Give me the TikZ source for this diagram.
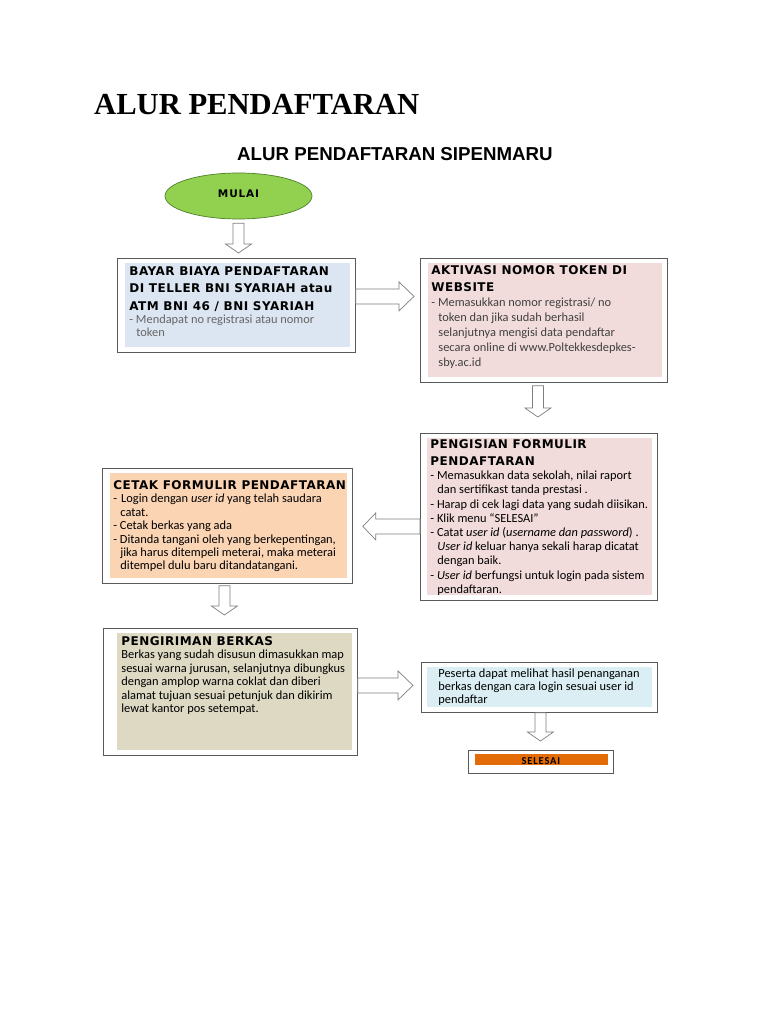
\documentclass[tikz,border=0pt]{standalone}
\usepackage{fontspec}
\usepackage{tikz}
\usetikzlibrary{positioning,calc,shapes.geometric}
\newfontfamily\titlefont{Liberation Serif}
\newfontfamily\chartfont{Liberation Sans}
\newfontfamily\headfont{DejaVu Sans}[LetterSpace=4]
\newfontfamily\bodyfont{Carlito}
\definecolor{startgreen}{HTML}{92D050}
\definecolor{startedge}{HTML}{4E7F2A}
\definecolor{payblue}{HTML}{DCE6F2}
\definecolor{webpink}{HTML}{F2DCDB}
\definecolor{printpeach}{HTML}{FBD4B4}
\definecolor{mailtan}{HTML}{DDD9C3}
\definecolor{resultcyan}{HTML}{DAEEF3}
\definecolor{endorange}{HTML}{E36C09}
\definecolor{framegray}{HTML}{595959}
\definecolor{arrowgray}{HTML}{7F7F7F}
\newcommand{\boxhead}[2]{{\headfont\bfseries\fontsize{12}{#1}\selectfont #2\par}}
\newcommand{\boxbody}[2]{{\bodyfont\fontsize{12.4}{#1}\selectfont #2\par}}
\newcommand{\indcont}{\hspace*{7pt}}
\newcommand{\panelbox}[3]{\parbox[t][#2][t]{#1}{\noindent\rlap{\parbox[t]{300pt}{#3}}}}
% hollow block arrow: from, to, stem half width, head half width, head length
\newcommand{\blockarrow}[5]{%
  \draw[hollow] ($(#1)!#3!90:(#2)$) -- ($(#2)!#5!(#1)!#3!90:(#2)$)
    -- ($(#2)!#5!(#1)!#4!90:(#2)$) -- (#2)
    -- ($(#2)!#5!(#1)!#4!-90:(#2)$) -- ($(#2)!#5!(#1)!#3!-90:(#2)$)
    -- ($(#1)!#3!-90:(#2)$) -- cycle;}
\tikzset{
    startnode/.style={ellipse,draw=startedge,fill=startgreen,line width=0.7pt,
        minimum width=147pt,minimum height=46pt,inner sep=0pt,
        font=\headfont\bfseries\fontsize{10.5}{12}\selectfont\addfontfeature{LetterSpace=8}},
    stage/.style={draw=framegray,line width=0.8pt,fill=white,anchor=north west,
        inner xsep=11pt,inner ysep=7pt,text=black},
    panel/.style 2 args={path picture={\fill[#1]
        ([shift={(#2,5pt)}]path picture bounding box.south west) rectangle
        ([shift={(-5pt,-5pt)}]path picture bounding box.north east);}},
    endbox/.style={draw=framegray,line width=0.8pt,fill=white,anchor=north west,
        minimum width=145pt,minimum height=23pt,inner sep=0pt,
        font=\bodyfont\bfseries\fontsize{10.5}{12}\selectfont\addfontfeature{LetterSpace=8},
        path picture={\fill[endorange]
        ([shift={(7pt,8pt)}]path picture bounding box.south west) rectangle
        ([shift={(-5pt,-4pt)}]path picture bounding box.north east);}},
    hollow/.style={draw=arrowgray,line width=0.7pt,fill=white,line join=miter},
}
\begin{document}
\begin{tikzpicture}[x=1pt,y=-1pt]
    \useasboundingbox (0,0) rectangle (768,1024);
    \fill[white] (0,0) rectangle (768,1024);

    \node[anchor=base west,inner sep=0pt,font=\titlefont\bfseries\fontsize{30.6}{36}\selectfont]
        (pagetitle) at (94,115) {ALUR PENDAFTARAN};
    \node[anchor=base west,inner sep=0pt,font=\chartfont\bfseries\fontsize{18.7}{22}\selectfont]
        (charttitle) at (237,161) {ALUR PENDAFTARAN SIPENMARU};

    \node[startnode] (mulai) at (238.5,196) {\raisebox{4pt}{MULAI}};

    \node[stage,panel={payblue}{8pt},inner xsep=12pt,inner ysep=8.25pt] (bayar) at (117,258)
        {\panelbox{214pt}{77.5pt}{%
        \boxhead{17.5pt}{BAYAR BIAYA PENDAFTARAN\\DI TELLER BNI SYARIAH atau\\ATM BNI 46 / BNI SYARIAH}%
        \boxbody{13pt}{\color{black!60}- Mendapat no registrasi atau nomor\\\indcont token}}};

    \node[stage,panel={webpink}{8pt},inner xsep=11pt,inner ysep=7.25pt] (aktivasi) at (420,258)
        {\panelbox{225pt}{109.5pt}{%
        \boxhead{17pt}{AKTIVASI NOMOR TOKEN DI\\WEBSITE}%
        \boxbody{15pt}{\color{black!75}- Memasukkan nomor registrasi/ no\\\indcont token dan jika sudah berhasil\\\indcont selanjutnya mengisi data pendaftar\\\indcont secara online di www.Poltekkesdepkes-\\\indcont sby.ac.id}}};

    \node[stage,panel={webpink}{7pt},inner xsep=10pt,inner ysep=6.25pt] (pengisian) at (420,433)
        {\panelbox{217pt}{154.5pt}{%
        \boxhead{17pt}{PENGISIAN FORMULIR\\PENDAFTARAN}%
        \boxbody{14.2pt}{- Memasukkan data sekolah, nilai raport\\\indcont dan sertifikast tanda prestasi .\\- Harap di cek lagi data yang sudah diisikan.\\- Klik menu “SELESAI”\\- Catat \textit{user id} (\textit{username dan password}) .\\\indcont\textit{User id} keluar hanya sekali harap dicatat\\\indcont dengan baik.\\- \textit{User id} berfungsi untuk login pada sistem\\\indcont pendaftaran.}}};

    \node[stage,panel={printpeach}{8pt},inner xsep=11pt,inner ysep=12.25pt] (cetak) at (102,468)
        {\panelbox{228pt}{90.5pt}{%
        \boxhead{17pt}{CETAK FORMULIR PENDAFTARAN}%
        \boxbody{13.4pt}{-\hspace{4pt}Login dengan \textit{user id} yang telah saudara\\\indcont catat.\\- Cetak berkas yang ada\\- Ditanda tangani oleh yang berkepentingan,\\\indcont jika harus ditempeli meterai, maka meterai\\\indcont ditempel dulu baru ditandatangani.}}};

    \node[stage,panel={mailtan}{14pt},inner xsep=18pt,inner ysep=8.25pt] (pengiriman) at (103,628)
        {\panelbox{218pt}{110.5pt}{%
        \boxhead{17pt}{PENGIRIMAN BERKAS}%
        \boxbody{13.4pt}{Berkas yang sudah disusun dimasukkan map\\sesuai warna jurusan, selanjutnya dibungkus\\dengan amplop warna coklat dan diberi\\alamat tujuan sesuai petunjuk dan dikirim\\lewat kantor pos setempat.}}};

    \node[stage,panel={resultcyan}{6pt},inner xsep=17pt,inner ysep=6.7pt] (peserta) at (421,662)
        {\panelbox{202pt}{36.6pt}{%
        \boxbody{13pt}{Peserta dapat melihat hasil penanganan\\berkas dengan cara login sesuai user id\\pendaftar}}};

    \node[endbox] (selesai) at (468,750) {\raisebox{2pt}{SELESAI}};

    % arrow ends
    \coordinate (a1s) at ($(mulai.south)+(0,4)$);
    \coordinate (a1e) at ($(mulai.south |- bayar.north)+(0,-5)$);
    \coordinate (a2s) at ($(bayar.east)+(0,-9)$);
    \coordinate (a2e) at ($(a2s -| aktivasi.west)+(-6,0)$);
    \coordinate (a3s) at ($(aktivasi.south)+(-6,3)$);
    \coordinate (a3e) at ($(a3s |- pengisian.north)+(0,-16)$);
    \coordinate (a4s) at ($(pengisian.west)+(0,9.5)$);
    \coordinate (a4e) at ($(a4s -| cetak.east)+(10,0)$);
    \coordinate (a5s) at ($(cetak.south)+(-3,2)$);
    \coordinate (a5e) at ($(a5s |- pengiriman.north)+(0,-13)$);
    \coordinate (a6s) at ($(pengiriman.east)+(0,-6.5)$);
    \coordinate (a6e) at ($(a6s -| peserta.west)+(-8,0)$);
    \coordinate (a7s) at ($(peserta.south)+(1,0)$);
    \coordinate (a7e) at ($(a7s |- selesai.north)+(0,-9)$);

    \blockarrow{a1s}{a1e}{5.5pt}{13pt}{9pt}
    \blockarrow{a2s}{a2e}{7.5pt}{14.5pt}{15pt}
    \blockarrow{a3s}{a3e}{5.5pt}{13pt}{9pt}
    \blockarrow{a4s}{a4e}{7.5pt}{13.5pt}{13pt}
    \blockarrow{a5s}{a5e}{5.5pt}{13pt}{9pt}
    \blockarrow{a6s}{a6e}{7.5pt}{14.5pt}{15pt}
    \blockarrow{a7s}{a7e}{5.5pt}{13pt}{9pt}
\end{tikzpicture}
\end{document}
